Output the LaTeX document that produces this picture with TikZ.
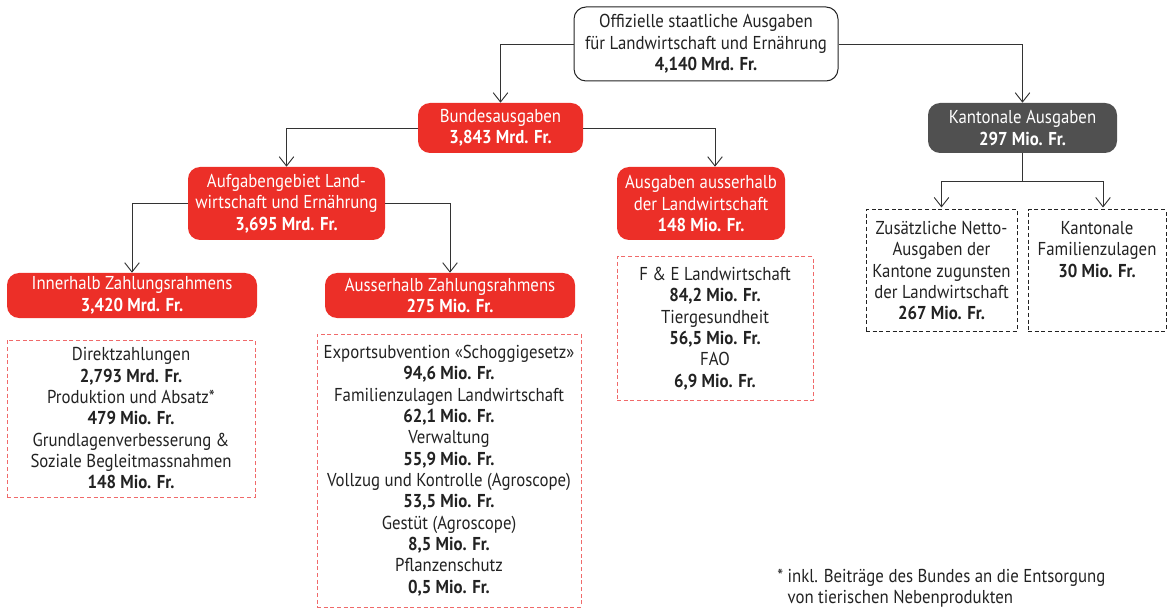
\documentclass[tikz,border=0pt]{standalone}
\usepackage{fontspec}
\setmainfont{PT Sans}[FakeStretch=0.9]
\usetikzlibrary{arrows.meta}
\definecolor{chred}{HTML}{EC2F28}
\definecolor{chgray}{HTML}{505050}
\definecolor{chline}{HTML}{333333}
\definecolor{chtext}{HTML}{222222}
\definecolor{chdash}{HTML}{F06A6A}

\begin{document}
\begin{tikzpicture}[x=0.75pt, y=-0.75pt,
    font=\fontsize{14}{16}\selectfont, text=chtext,
    box/.style={rounded corners=9pt, align=center, inner sep=0pt},
    whitebox/.style={box, draw=chtext, line width=0.75pt, fill=white},
    redbox/.style={box, fill=chred, text=white},
    graybox/.style={box, fill=chgray, text=white},
    listbox/.style={align=center, inner sep=0pt, draw=chdash, dash pattern=on 3pt off 2pt, line width=0.75pt},
    kantbox/.style={align=center, inner sep=0pt, draw=chtext, dash pattern=on 3pt off 2pt, line width=0.75pt},
    arr/.style={-{Straight Barb[length=7pt,width=11pt]}, draw=chline, line width=0.7pt}]
    \useasboundingbox (0,0) rectangle (1169,609);

    \node[whitebox, minimum width=198pt, minimum height=55.5pt] (gesamt) at (706,44)
        {Offizielle staatliche Ausgaben\\für Landwirtschaft und Ernährung\\\textbf{4,140 Mrd. Fr.}};
    \node[redbox, minimum width=123.75pt, minimum height=37.5pt] (bund) at (500.5,128)
        {Bundesausgaben\\\textbf{3,843 Mrd. Fr.}};
    \node[graybox, minimum width=141.75pt, minimum height=37.5pt] (kant) at (1022.5,128)
        {Kantonale Ausgaben\\\textbf{297 Mio. Fr.}};
    \node[redbox, minimum width=147.75pt, minimum height=54.75pt] (aufg) at (286.5,203.5)
        {Aufgabengebiet Land-\\wirtschaft und Ernährung\\\textbf{3,695 Mrd. Fr.}};
    \node[redbox, minimum width=126pt, minimum height=54.75pt] (ausser) at (701,203.5)
        {Ausgaben ausserhalb\\der Landwirtschaft\\\textbf{148 Mio. Fr.}};
    \node[redbox, minimum width=187.5pt, minimum height=33.75pt] (inner) at (132,295.5)
        {Innerhalb Zahlungsrahmens\\\textbf{3,420 Mrd. Fr.}};
    \node[redbox, minimum width=187.5pt, minimum height=33.75pt] (aussz) at (450,295.5)
        {Ausserhalb Zahlungsrahmens\\\textbf{275 Mio. Fr.}};

    \node[listbox, minimum width=186pt, minimum height=117.75pt] (innerlist) at (131,418.5)
        {Direktzahlungen\\\textbf{2,793 Mrd. Fr.}\\Produktion und Absatz*\\\textbf{479 Mio. Fr.}\\
         Grundlagenverbesserung \&\\Soziale Begleitmassnahmen\\\textbf{148 Mio. Fr.}};
    \node[listbox, minimum width=198pt, minimum height=204.75pt] (ausszlist) at (449,470.5)
        {Exportsubvention «Schoggigesetz»\\\textbf{94,6 Mio. Fr.}\\Familienzulagen Landwirtschaft\\\textbf{62,1 Mio. Fr.}\\
         Verwaltung\\\textbf{55,9 Mio. Fr.}\\Vollzug und Kontrolle (Agroscope)\\\textbf{53,5 Mio. Fr.}\\
         Gestüt (Agroscope)\\\textbf{8,5 Mio. Fr.}\\Pflanzenschutz\\\textbf{0,5 Mio. Fr.}};
    \node[listbox, minimum width=147pt, minimum height=107.25pt] (ausserlist) at (715,328.5)
        {F \& E Landwirtschaft\\\textbf{84,2 Mio. Fr.}\\Tiergesundheit\\\textbf{56,5 Mio. Fr.}\\FAO\\\textbf{6,9 Mio. Fr.}};

    \node[kantbox, minimum width=113.25pt, minimum height=90.75pt] (zus) at (941.5,270.5)
        {Zusätzliche Netto-\\Ausgaben der\\Kantone zugunsten\\der Landwirtschaft\\\textbf{267 Mio. Fr.}};
    \node[kantbox, minimum width=103.5pt, minimum height=90.75pt] (famz) at (1097,270.5)
        {Kantonale\\Familienzulagen\\\textbf{30 Mio. Fr.}\\~\\~};

    \draw[arr] (gesamt.west) -| (bund.north);
    \draw[arr] (gesamt.east) -| (kant.north);
    \draw[arr] (bund.west) -| (aufg.north);
    \draw[arr] (bund.east) -| ([xshift=10.5pt]ausser.north);
    \draw[arr] (aufg.west) -| (inner.north);
    \draw[arr] (aufg.east) -| (aussz.north);
    \draw[draw=chline, line width=0.7pt] (kant.south) -- ++(0,28) coordinate (kfork);
    \draw[arr] (kfork) -| ([yshift=1.5pt]zus.north);
    \draw[arr] (kfork) -| ([xshift=4.5pt, yshift=1.5pt]famz.north);

    \node[align=left, anchor=north west, inner sep=0pt] (fussnote) at (777,569)
        {* inkl. Beiträge des Bundes an die Entsorgung\\\phantom{* }von tierischen Nebenprodukten};
\end{tikzpicture}
\end{document}
